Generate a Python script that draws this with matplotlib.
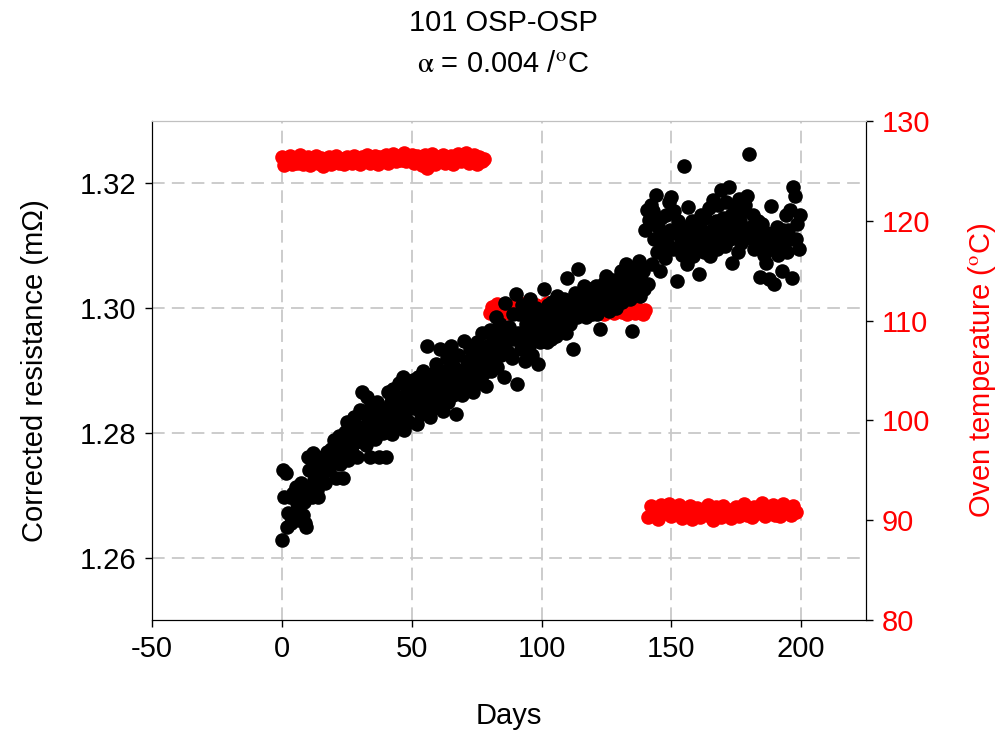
#!/usr/bin/env python3
"""Corrected resistance and oven temperature against days, 101 OSP-OSP."""
import matplotlib
matplotlib.use("Agg")
import matplotlib.pyplot as plt
import numpy as np

plt.rcParams['font.family'] = ['Liberation Sans', 'DejaVu Sans']
plt.rcParams['mathtext.fontset'] = 'stix'
plt.rcParams['axes.unicode_minus'] = False

# Corrected resistance (mOhm), two readings a day from day 0, one row per 10 days.
res_start = 0.0
res_step = 0.5
resistance = [
    1.2629, 1.2741, 1.2698, 1.2735, 1.2650, 1.2672, 1.2698, 1.2656, 1.2666, 1.2704,
    1.2674, 1.2714, 1.2688, 1.2660, 1.2702, 1.2720, 1.2668, 1.2690, 1.2656, 1.2650,
    1.2762, 1.2741, 1.2712, 1.2698, 1.2768, 1.2725, 1.2745, 1.2709, 1.2698, 1.2750,
    1.2760, 1.2735, 1.2762, 1.2720, 1.2748, 1.2770, 1.2740, 1.2757, 1.2775, 1.2752,
    1.2789, 1.2762, 1.2728, 1.2778, 1.2795, 1.2750, 1.2780, 1.2728, 1.2768, 1.2802,
    1.2818, 1.2757, 1.2790, 1.2812, 1.2770, 1.2800, 1.2825, 1.2785, 1.2762, 1.2808,
    1.2837, 1.2810, 1.2865, 1.2795, 1.2830, 1.2780, 1.2858, 1.2820, 1.2762, 1.2845,
    1.2805, 1.2838, 1.2790, 1.2850, 1.2825, 1.2762, 1.2812, 1.2840, 1.2800, 1.2830,
    1.2762, 1.2840, 1.2865, 1.2815, 1.2850, 1.2798, 1.2870, 1.2830, 1.2810, 1.2855,
    1.2880, 1.2821, 1.2845, 1.2890, 1.2805, 1.2860, 1.2835, 1.2875, 1.2818, 1.2850,
    1.2860, 1.2885, 1.2840, 1.2870, 1.2815, 1.2890, 1.2855, 1.2830, 1.2875, 1.2900,
    1.2845, 1.2868, 1.2939, 1.2880, 1.2825, 1.2860, 1.2895, 1.2840, 1.2870, 1.2910,
    1.2850, 1.2885, 1.2934, 1.2865, 1.2835, 1.2900, 1.2875, 1.2920, 1.2850, 1.2890,
    1.2940, 1.2880, 1.2860, 1.2905, 1.2830, 1.2885, 1.2925, 1.2870, 1.2900, 1.2860,
    1.2947, 1.2890, 1.2870, 1.2915, 1.2880, 1.2935, 1.2900, 1.2865, 1.2920, 1.2890,
    1.2945, 1.2905, 1.2880, 1.2925, 1.2960, 1.2895, 1.2915, 1.2875, 1.2940, 1.2910,
    1.2965, 1.2900, 1.2930, 1.2950, 1.2920, 1.2985, 1.2905, 1.2940, 1.2975, 1.2925,
    1.2960, 1.2890, 1.3009, 1.2945, 1.2930, 1.2970, 1.2955, 1.2920, 1.2990, 1.2950,
    1.3022, 1.2878, 1.2960, 1.2990, 1.2935, 1.3005, 1.2950, 1.2915, 1.2975, 1.2995,
    1.2940, 1.3015, 1.2960, 1.2925, 1.2985, 1.2950, 1.3000, 1.2910, 1.2970, 1.2945,
    1.2990, 1.2960, 1.3030, 1.2975, 1.2945, 1.3005, 1.2985, 1.2950, 1.3010, 1.2970,
    1.2995, 1.2955, 1.3020, 1.2985, 1.2965, 1.3000, 1.2975, 1.3015, 1.2990, 1.2960,
    1.3049, 1.2995, 1.2975, 1.3010, 1.2934, 1.3000, 1.3025, 1.2985, 1.3062, 1.3005,
    1.2990, 1.3020, 1.3000, 1.3035, 1.2985, 1.3015, 1.2995, 1.3030, 1.3010, 1.2990,
    1.3020, 1.3005, 1.3035, 1.2990, 1.3015, 1.2966, 1.3025, 1.3000, 1.3040, 1.3010,
    1.3051, 1.3020, 1.2995, 1.3030, 1.3010, 1.3045, 1.3020, 1.3000, 1.3040, 1.3015,
    1.3035, 1.3060, 1.3010, 1.3045, 1.3025, 1.3070, 1.3030, 1.3055, 1.3015, 1.3040,
    1.2963, 1.3065, 1.3025, 1.3050, 1.3035, 1.3075, 1.3020, 1.3045, 1.3060, 1.3030,
    1.3126, 1.3158, 1.3038, 1.3142, 1.3166, 1.3070, 1.3155, 1.3110, 1.3182, 1.3090,
    1.3130, 1.3059, 1.3145, 1.3100, 1.3120, 1.3080, 1.3150, 1.3105, 1.3170, 1.3125,
    1.3178, 1.3094, 1.3155, 1.3120, 1.3043, 1.3140, 1.3100, 1.3115, 1.3085, 1.3130,
    1.3227, 1.3110, 1.3070, 1.3162, 1.3125, 1.3095, 1.3140, 1.3083, 1.3115, 1.3135,
    1.3105, 1.3054, 1.3130, 1.3150, 1.3115, 1.3090, 1.3145, 1.3120, 1.3100, 1.3160,
    1.3083, 1.3125, 1.3174, 1.3110, 1.3140, 1.3095, 1.3165, 1.3130, 1.3190, 1.3115,
    1.3145, 1.3100, 1.3170, 1.3125, 1.3194, 1.3110, 1.3150, 1.3073, 1.3135, 1.3160,
    1.3120, 1.3090, 1.3175, 1.3140, 1.3105, 1.3155, 1.3125, 1.3165, 1.3180, 1.3115,
    1.3247, 1.3130, 1.3110, 1.3150, 1.3095, 1.3125, 1.3100, 1.3140, 1.3050, 1.3115,
    1.3135, 1.3085, 1.3105, 1.3073, 1.3120, 1.3046, 1.3095, 1.3163, 1.3110, 1.3038,
    1.3100, 1.3130, 1.3085, 1.3115, 1.3099, 1.3060, 1.3125, 1.3105, 1.3150, 1.3090,
    1.3126, 1.3158, 1.3110, 1.3049, 1.3194, 1.3180, 1.3110, 1.3135, 1.3095, 1.3150,
]

# Oven temperature (deg C), one reading a day, in three stages.
temp_high_start = 0
temp_high = [
    126.4, 125.6, 126.1, 126.5, 125.7, 126.2, 125.8, 126.6, 125.7, 126.1,
    126.4, 125.6, 126.0, 126.5, 125.8, 126.3, 125.5, 126.1, 126.4, 125.7,
    126.0, 126.5, 125.8, 126.2, 125.7, 126.4, 126.0, 125.8, 126.5, 126.1,
    125.7, 126.4, 126.0, 126.6, 125.8, 126.2, 126.5, 125.7, 126.4, 126.1,
    126.6, 125.8, 126.2, 126.7, 126.0, 126.5, 126.1, 126.8, 126.0, 126.4,
    126.6, 125.8, 126.5, 126.2, 125.6, 126.6, 125.3, 126.1, 126.7, 125.7,
    126.4, 126.0, 126.6, 125.8, 126.2, 126.5, 125.7, 126.1, 126.7, 126.0,
    126.4, 126.8, 125.8, 126.2, 126.6, 125.7, 126.4, 126.0, 126.2,
]
temp_mid_start = 80
temp_mid = [
    110.8, 111.4, 111.0, 111.7, 110.9, 111.3, 111.6, 110.8, 111.4, 111.1,
    111.7, 110.9, 111.5, 111.1, 111.8, 111.0, 111.4, 110.8, 111.6, 111.3,
    110.9, 111.5, 111.8, 111.0, 111.2, 111.6, 110.8, 111.4, 111.1, 111.7,
    110.9, 111.5, 111.0, 111.2, 111.8, 110.8, 111.4, 111.1, 111.6, 110.9,
    111.2, 111.7, 111.0, 111.4, 110.7, 111.5, 111.1, 111.6, 110.8, 111.2,
    111.5, 110.9, 111.4, 110.7, 111.1, 111.5, 110.8, 111.2, 111.0, 110.7,
    111.1,
]
temp_low_start = 141
temp_low = [
    90.3, 91.4, 90.5, 91.0, 90.1, 91.5, 90.7, 90.9, 91.6, 90.4,
    91.1, 90.8, 91.5, 90.2, 91.0, 90.6, 91.4, 90.1, 90.9, 91.2,
    90.3, 91.0, 90.7, 91.5, 90.4, 90.0, 91.3, 90.8, 90.3, 91.4,
    90.6, 91.0, 90.2, 90.9, 91.3, 90.4, 90.8, 91.6, 90.5, 91.0,
    90.3, 91.3, 90.7, 90.9, 91.7, 90.4, 91.0, 90.7, 91.5, 90.5,
    91.1, 90.4, 91.6, 90.8, 91.0, 90.5, 91.4, 90.8,
]

x_ticks = [-50, 0, 50, 100, 150, 200]
res_ticks = [1.26, 1.28, 1.30, 1.32]
temp_ticks = [80, 90, 100, 110, 120, 130]


def plot_resistance():
    fig = plt.figure(figsize=(10.06, 7.33), dpi=100)
    ax = fig.add_axes([0.151, 0.154, 0.710, 0.681])
    ax2 = ax.twinx()

    res_days = res_start + res_step * np.arange(len(resistance))
    red_days = np.concatenate([
        temp_high_start + np.arange(len(temp_high)),
        temp_mid_start + np.arange(len(temp_mid)),
        temp_low_start + np.arange(len(temp_low)),
    ])
    red_temps = np.concatenate([temp_high, temp_mid, temp_low])

    # Red points use the right-hand scale but sit under the black ones.
    ax.plot(red_days, red_temps, 'o', color='#ff0000', markersize=10.5,
            markeredgewidth=0, transform=ax2.transData, zorder=2)
    ax.plot(res_days, resistance, 'o', color='black', markersize=10.5,
            markeredgewidth=0, zorder=3)

    ax.set_xlim(-50, 225)
    ax.set_ylim(1.25, 1.33)
    ax2.set_ylim(80, 130)
    ax.set_xticks(x_ticks)
    ax.set_yticks(res_ticks)
    ax.set_yticklabels([f"{v:.2f}" for v in res_ticks])
    ax2.set_yticks(temp_ticks)

    ax.set_axisbelow(True)
    ax.grid(True, color='#c8c8c8', linestyle=(0, (7, 4)), linewidth=1.3)

    for a in (ax, ax2):
        a.spines['top'].set_color('#c0c0c0')
    ax.tick_params(axis='both', direction='out', length=5, width=1,
                   labelsize=21, pad=6)
    ax2.tick_params(axis='y', direction='out', length=5, width=1,
                    labelsize=21, labelcolor='#ff0000', pad=6)

    ax.set_xlabel("Days", fontsize=21, labelpad=28)
    ax.set_ylabel("Corrected resistance (m\u03a9)", fontsize=21, labelpad=22)
    ax2.set_ylabel(r"Oven temperature ($^{\rm o}$C)", fontsize=21,
                   color='#ff0000', labelpad=26)

    fig.text(0.5, 0.968, "101 OSP-OSP", ha='center', va='center', fontsize=21)
    fig.text(0.5, 0.913, r"$\mathrm{\alpha}$ = 0.004 /$^{\rm o}$C",
             ha='center', va='center', fontsize=21)

    fig.savefig("out.png", dpi=100)


if __name__ == '__main__':
    plot_resistance()
